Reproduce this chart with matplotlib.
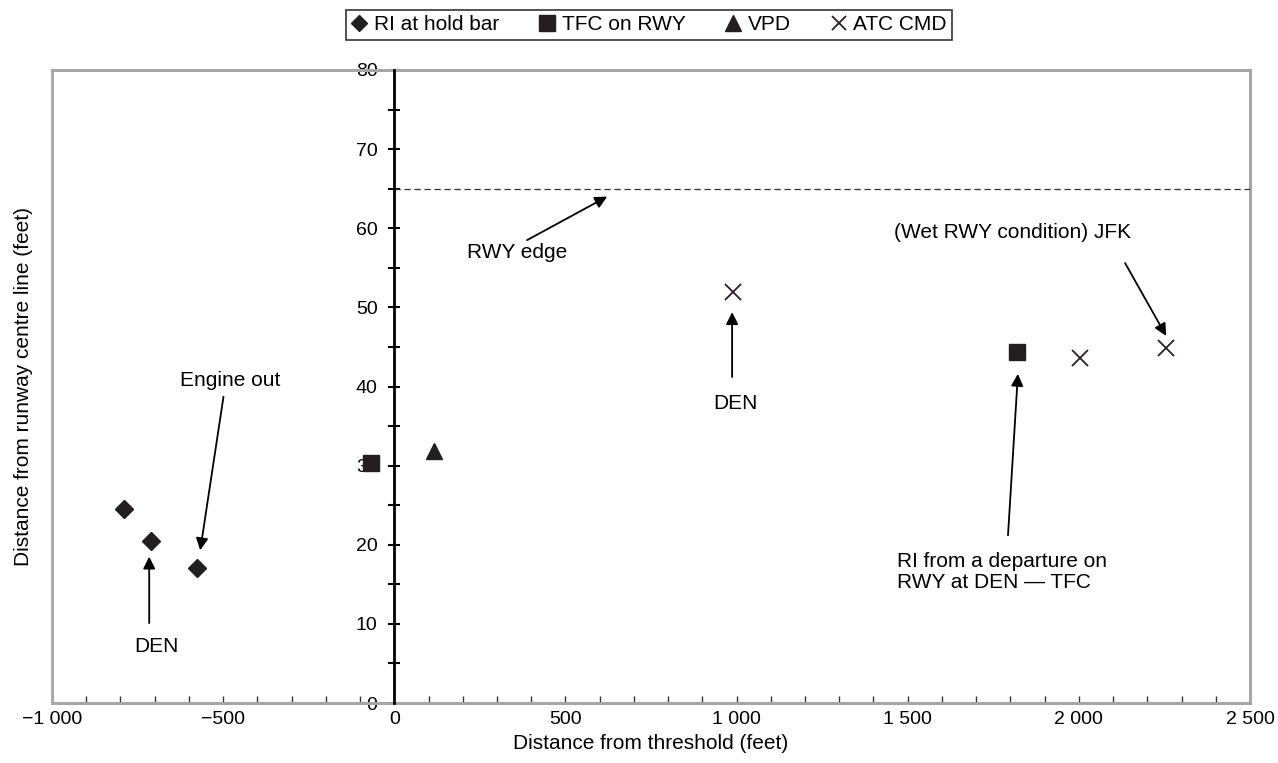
import matplotlib.pyplot as plt
from matplotlib.patches import Rectangle
from matplotlib.ticker import MultipleLocator, FuncFormatter

plt.rcParams['font.family'] = ['Liberation Sans', 'DejaVu Sans']
plt.rcParams['font.size'] = 15

# incidents: distance from threshold (ft), distance from runway centre line (ft)
hold_x = [-790, -712, -577]
hold_y = [24.5, 20.5, 17.1]
tfc_x = [-68, 1820]
tfc_y = [30.3, 44.3]
vpd_x = [117]
vpd_y = [31.8]
atc_x = [990, 2003, 2255]
atc_y = [52.0, 43.6, 44.9]
rwy_edge = 65

dark = '#231f20'

def fmt_thousands(v, pos):
    s = '{:,.0f}'.format(abs(v)).replace(',', ' ')
    return ('\u2212' + s) if v < 0 else s

fig = plt.figure(figsize=(12.78, 7.63), dpi=100)
ax = fig.add_axes([52 / 1278, 1 - 703 / 763, 1198 / 1278, 633 / 763])

ax.plot(hold_x, hold_y, 'D', color=dark, ms=8.7, ls='none', label='RI at hold bar', zorder=5)
ax.plot(tfc_x, tfc_y, 's', color=dark, ms=12, ls='none', label='TFC on RWY', zorder=5)
ax.plot(vpd_x, vpd_y, '^', color=dark, ms=12, ls='none', label='VPD', zorder=5)
ax.plot(atc_x, atc_y, 'x', color='#2b1d2b', ms=11, mew=1.3, ls='none', label='ATC CMD', zorder=5)

ax.plot([0, 2500], [rwy_edge, rwy_edge], color='#333333', lw=0.9, dashes=(5, 3), zorder=3)

ax.set_xlim(-1000, 2500)
ax.set_ylim(0, 80)

# grey frame around the plot, black y axis through x = 0
for side in ['top', 'right', 'bottom']:
    ax.spines[side].set_color('#a6a6a6')
    ax.spines[side].set_linewidth(2)
ax.spines['left'].set_position(('data', 0))
ax.spines['left'].set_color('black')
ax.spines['left'].set_linewidth(2)
ax.spines['left'].set_zorder(4)
ax.add_patch(Rectangle((0, 0), 1, 1, transform=ax.transAxes, fill=False,
                       edgecolor='#a6a6a6', lw=2, clip_on=False, zorder=2))

ax.xaxis.set_major_locator(MultipleLocator(500))
ax.xaxis.set_minor_locator(MultipleLocator(100))
ax.xaxis.set_major_formatter(FuncFormatter(fmt_thousands))
ax.tick_params(axis='x', which='both', direction='in', length=5, width=1,
               color='#333333', pad=6, labelsize=14)

ax.yaxis.set_major_locator(MultipleLocator(10))
ax.yaxis.set_minor_locator(MultipleLocator(5))
ax.tick_params(axis='y', which='both', direction='inout', length=8, width=1.5,
               color='black', pad=8, labelsize=14)

ax.set_xlabel('Distance from threshold (feet)', labelpad=4)
ax.set_ylabel('Distance from runway centre line (feet)')
ax.yaxis.set_label_coords(-0.016, 0.5)

arrow = dict(arrowstyle='-|>', color='black', lw=1.3, mutation_scale=18,
             shrinkA=0, shrinkB=0)
ax.annotate('', xy=(-716, 18.5), xytext=(-716, 10.1), arrowprops=arrow)
ax.text(-695, 7.1, 'DEN', ha='center', va='center')
ax.annotate('', xy=(-567, 19.3), xytext=(-499, 38.7), arrowprops=arrow)
ax.text(-479, 40.7, 'Engine out', ha='center', va='center')
ax.annotate('', xy=(622, 64.0), xytext=(388, 58.5), arrowprops=arrow)
ax.text(359, 56.9, 'RWY edge', ha='center', va='center')
ax.annotate('', xy=(987, 49.4), xytext=(987, 41.2), arrowprops=arrow)
ax.text(996, 37.9, 'DEN', ha='center', va='center')
ax.annotate('', xy=(2255, 46.4), xytext=(2135, 55.6), arrowprops=arrow)
ax.text(1805, 59.4, '(Wet RWY condition) JFK', ha='center', va='center')
ax.annotate('', xy=(1822, 41.6), xytext=(1793, 21.2), arrowprops=arrow)
ax.text(1470, 16.6, 'RI from a departure on\nRWY at DEN \u2014 TFC', ha='left',
        va='center', linespacing=1.15)

leg = fig.legend(loc='center', bbox_to_anchor=(649 / 1278, 1 - 25 / 763), ncol=4,
                 frameon=True, fancybox=False, edgecolor='black', handlelength=0.8,
                 handletextpad=0.3, columnspacing=1.9, borderpad=0.25,
                 markerscale=0.95)
leg.get_frame().set_linewidth(1.2)

fig.savefig('out.png', dpi=100)
